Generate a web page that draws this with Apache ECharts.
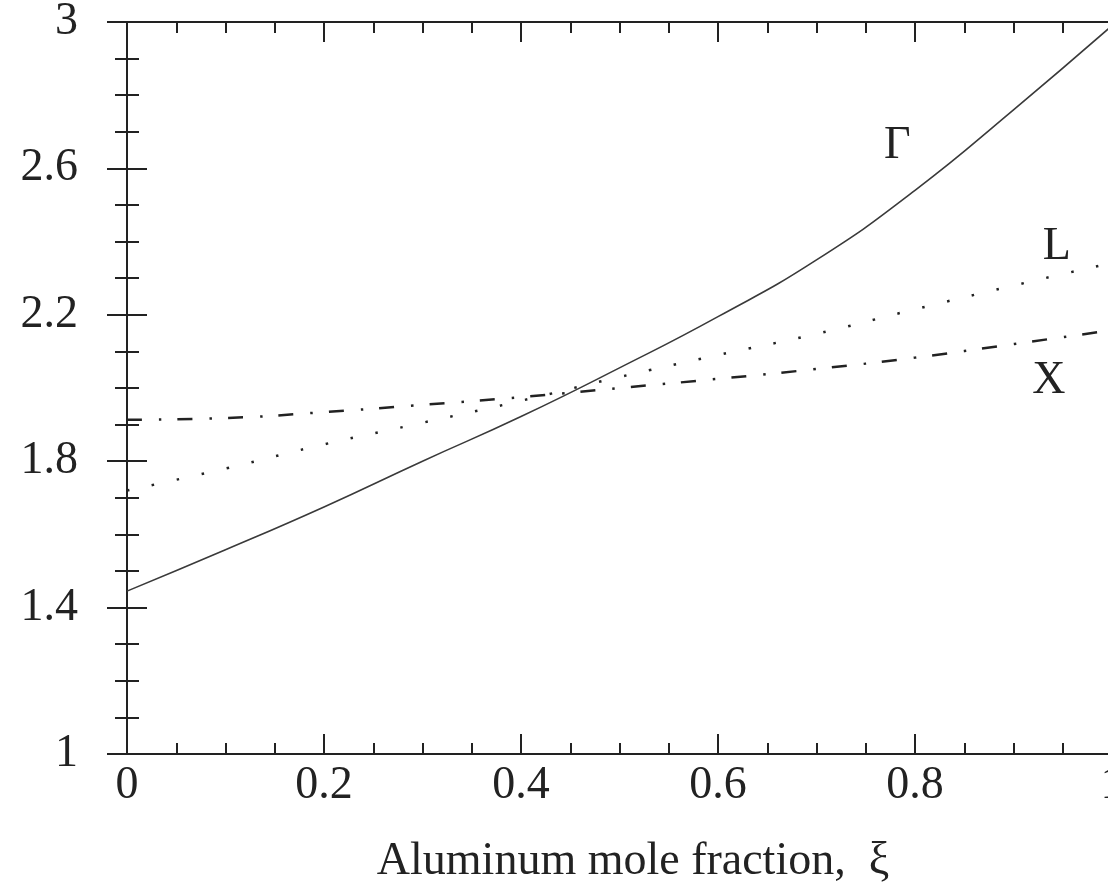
<!DOCTYPE html>
<html>
<head>
<meta charset="utf-8">
<script src="https://cdn.jsdelivr.net/npm/echarts@6/dist/echarts.min.js"></script>
<style>
html,body{margin:0;padding:0;background:#fff;}
#chart{width:1108px;height:889px;}
</style>
</head>
<body>
<div id="chart"></div>
<script>
// Data
const xFractions = [0, 0.1, 0.2, 0.3, 0.4, 0.5, 0.6, 0.7, 0.8, 0.9, 1.0];
const gammaValues = [1.445, 1.558, 1.675, 1.80, 1.922, 2.055, 2.195, 2.35, 2.54, 2.76, 2.99];
const lValues = [1.72, 1.78, 1.846, 1.905, 1.965, 2.03, 2.09, 2.148, 2.215, 2.28, 2.342];
const xValleyValues = [1.913, 1.918, 1.934, 1.954, 1.975, 2.0, 2.025, 2.052, 2.083, 2.12, 2.158];
const curveNames = ['Γ', 'L', 'X'];
const labelCoords = [[0.782, 2.661], [0.944, 2.385], [0.936, 2.019]];
const xAxisTitle = 'Aluminum mole fraction,  ξ';

const FONT = 'Liberation Serif';
const INK = '#222';

function pairs(vals) { return xFractions.map((x, i) => [x, vals[i]]); }

function labelPoint(i) {
  return {
    symbol: 'circle',
    symbolSize: 2,
    silent: true,
    itemStyle: { color: 'rgba(0,0,0,0)' },
    label: { show: true, position: 'inside', formatter: curveNames[i],
      fontFamily: FONT, fontSize: 46, color: INK },
    data: [{ coord: labelCoords[i] }]
  };
}

const chart = echarts.init(document.getElementById('chart'), null, { renderer: 'canvas' });

const commonX = {
  type: 'value', min: 0, max: 1, interval: 0.2,
  axisLine: { show: true, lineStyle: { color: INK, width: 2 } },
  axisTick: { show: true, inside: true, length: 20, lineStyle: { color: INK, width: 2 } },
  minorTick: { show: true, splitNumber: 4, length: 11, lineStyle: { color: INK, width: 2 } },
  splitLine: { show: false }
};
const commonY = {
  type: 'value', min: 1, max: 3, interval: 0.4,
  axisLine: { show: true, lineStyle: { color: INK, width: 2 } },
  axisTick: { show: true, inside: true, length: 20, lineStyle: { color: INK, width: 2 } },
  minorTick: { show: true, splitNumber: 4, length: 12, lineStyle: { color: INK, width: 2 } },
  splitLine: { show: false }
};

chart.setOption({
  animation: false,
  backgroundColor: '#fff',
  grid: { left: 127, top: 22, width: 985, height: 732, containLabel: false, outerBoundsMode: 'none' },
  xAxis: [
    Object.assign({}, commonX, {
      position: 'bottom',
      axisLabel: { show: true, margin: 9, fontFamily: FONT, fontSize: 46, color: INK },
      name: xAxisTitle, nameLocation: 'middle', nameGap: 85,
      nameTextStyle: { fontFamily: FONT, fontSize: 46, color: INK, padding: [0, 0, 0, 27] }
    }),
    Object.assign({}, commonX, { position: 'top', axisLabel: { show: false } })
  ],
  yAxis: [
    Object.assign({}, commonY, {
      position: 'left',
      axisLabel: { show: true, margin: 49, fontFamily: FONT, fontSize: 46, color: INK }
    }),
    Object.assign({}, commonY, { position: 'right', axisLabel: { show: false } })
  ],
  series: [
    {
      name: curveNames[0], type: 'line', smooth: true, showSymbol: false,
      data: pairs(gammaValues),
      lineStyle: { color: '#3a3a3a', width: 1.6, type: 'solid' },
      markPoint: labelPoint(0)
    },
    {
      name: curveNames[1], type: 'line', smooth: true, showSymbol: false,
      data: pairs(lValues),
      lineStyle: { color: '#222', width: 2.5, type: [2.5, 23] },
      markPoint: labelPoint(1)
    },
    {
      name: curveNames[2], type: 'line', smooth: true, showSymbol: false,
      data: pairs(xValleyValues),
      lineStyle: { color: '#222', width: 2.5, type: [15, 17, 2.5, 16] },
      markPoint: labelPoint(2)
    }
  ]
});
</script>
</body>
</html>
